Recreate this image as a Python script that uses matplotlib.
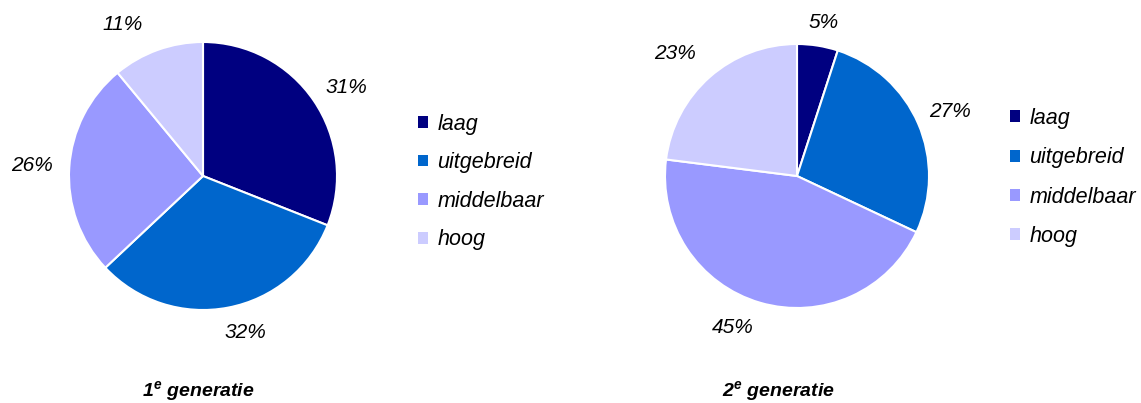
import matplotlib
matplotlib.use('Agg')
import matplotlib.pyplot as plt
from matplotlib.patches import Patch

plt.rcParams['font.family'] = ['Liberation Sans', 'DejaVu Sans']
plt.rcParams['mathtext.fontset'] = 'custom'
plt.rcParams['mathtext.bf'] = 'Liberation Sans:bold:italic'
plt.rcParams['mathtext.rm'] = 'Liberation Sans:bold:italic'

categories = ['laag', 'uitgebreid', 'middelbaar', 'hoog']
gen1 = [31, 32, 26, 11]
gen2 = [5, 27, 45, 23]
colors = ['#000080', '#0066CC', '#9999FF', '#CCCCFF']
titles = [r'$\mathbf{1^e}$ generatie', r'$\mathbf{2^e}$ generatie']

# label nudges in pixels (right, up), Excel-style placement
nudge1 = [(6, -5), (11, 7), (-5, 0), (-24, -5)]
nudge2 = [(1, -8), (3, -1), (-19, 6), (-14, 0)]

W, H = 1141, 403
fig = plt.figure(figsize=(W / 100, H / 100), dpi=100)

def add_pie(cx, cy, r, values, nudges):
    ax = fig.add_axes([(cx - r) / W, (H - cy - r) / H, 2 * r / W, 2 * r / H])
    wedges, texts = ax.pie(values, colors=colors, startangle=90, counterclock=False,
                           labels=[f'{v}%' for v in values], labeldistance=1.24,
                           wedgeprops=dict(edgecolor='white', linewidth=1.5),
                           textprops=dict(fontsize=15, style='italic'))
    for t, (dx, dy) in zip(texts, nudges):
        x, y = t.get_position()
        t.set_position((x + dx / r, y + dy / r))
        t.set_ha('center')
        t.set_va('center')
    ax.set_xlim(-1, 1)
    ax.set_ylim(-1, 1)
    ax.set_aspect('equal')
    return ax

add_pie(203, 176, 134, gen1, nudge1)
add_pie(797, 176, 132, gen2, nudge2)

handles = [Patch(facecolor=c, edgecolor='none') for c in colors]
for x, y, sp in [(418, 182, 0.815), (1010, 177.5, 0.85)]:
    fig.legend(handles, categories, loc='center left',
               bbox_to_anchor=(x / W, 1 - y / H), frameon=False,
               prop=dict(size=15.5, style='italic'),
               handlelength=0.47, handleheight=0.47, handletextpad=0.42,
               labelspacing=sp, borderpad=0, borderaxespad=0)

fig.text(198 / W, 1 - 391 / H, titles[0], fontsize=14, fontweight='bold',
         style='italic', ha='center', va='center')
fig.text(778 / W, 1 - 391 / H, titles[1], fontsize=14, fontweight='bold',
         style='italic', ha='center', va='center')

fig.savefig('out.png', dpi=100)
